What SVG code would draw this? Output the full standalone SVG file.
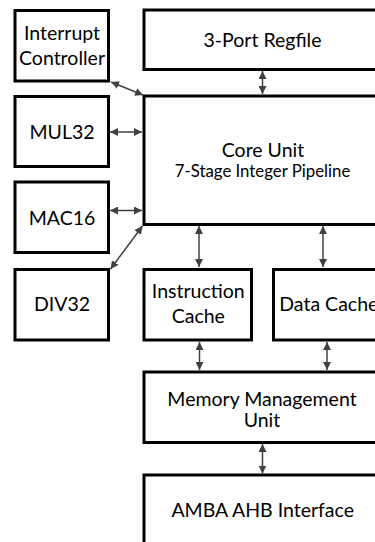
<svg xmlns="http://www.w3.org/2000/svg" width="375" height="542" viewBox="0 0 375 542">
<defs>
<style>
.box{fill:#fff;stroke:#000;stroke-width:3}
.t{font-family:Lato,"Liberation Sans",sans-serif;font-size:19.5px;fill:#000;text-anchor:middle}
.s{font-size:16.8px}
.c{stroke:#404040;stroke-width:1.5;fill:none;marker-start:url(#ah);marker-end:url(#ah)}
</style>
<marker id="ah" markerUnits="userSpaceOnUse" markerWidth="8" markerHeight="8" refX="8" refY="4" orient="auto-start-reverse" viewBox="0 0 8 8">
<path d="M0,0 L8,4 L0,8 z" fill="#404040"/>
</marker>
</defs>
<rect width="375" height="542" fill="#fff"/>
<g id="interrupt"><rect class="box" x="15" y="10.5" width="93.5" height="70.5"/><text class="t" x="62" y="40">Interrupt</text><text class="t" x="62" y="65">Controller</text></g>
<g id="regfile"><rect class="box" x="144" y="10" width="250" height="59.5"/><text class="t" x="262.5" y="46.7">3-Port Regfile</text></g>
<g id="core"><rect class="box" x="144" y="96" width="250" height="128.5"/><text class="t" x="263" y="156.7">Core Unit</text><text class="t s" x="262.5" y="176.7">7-Stage Integer Pipeline</text></g>
<g id="mul32"><rect class="box" x="15" y="96.5" width="93.5" height="70"/><text class="t" x="62" y="138.5">MUL32</text></g>
<g id="mac16"><rect class="box" x="15" y="182" width="93.5" height="70.5"/><text class="t" x="62" y="225">MAC16</text></g>
<g id="div32"><rect class="box" x="15" y="269.5" width="93.5" height="70.5"/><text class="t" x="62" y="310.7">DIV32</text></g>
<g id="icache"><rect class="box" x="144" y="269.5" width="107.5" height="70.5"/><text class="t" x="198.3" y="298.3">Instruction</text><text class="t" x="198.3" y="323.3">Cache</text></g>
<g id="dcache"><rect class="box" x="273.5" y="269.5" width="120" height="70.5"/><text class="t" x="279.3" y="310.7" style="text-anchor:start">Data Cache</text></g>
<g id="mmu"><rect class="box" x="144" y="372" width="250" height="70.5"/><text class="t" x="262" y="406">Memory Management</text><text class="t" x="262" y="426.7">Unit</text></g>
<g id="amba"><rect class="box" x="144" y="475" width="250" height="90"/><text class="t" x="262.7" y="516.7">AMBA AHB Interface</text></g>
<g id="connectors">
<line class="c" x1="111" y1="82" x2="143" y2="95"/>
<line class="c" x1="262.5" y1="71" x2="262.5" y2="94"/>
<line class="c" x1="110" y1="132" x2="142" y2="132"/>
<line class="c" x1="110" y1="210.5" x2="142" y2="210.5"/>
<line class="c" x1="142.5" y1="226" x2="110.5" y2="269"/>
<line class="c" x1="199" y1="226" x2="199" y2="267"/>
<line class="c" x1="323" y1="226" x2="323" y2="267"/>
<line class="c" x1="199.5" y1="342" x2="199.5" y2="370"/>
<line class="c" x1="327" y1="342" x2="327" y2="370"/>
<line class="c" x1="262.5" y1="444" x2="262.5" y2="473.5"/>
</g>
</svg>
